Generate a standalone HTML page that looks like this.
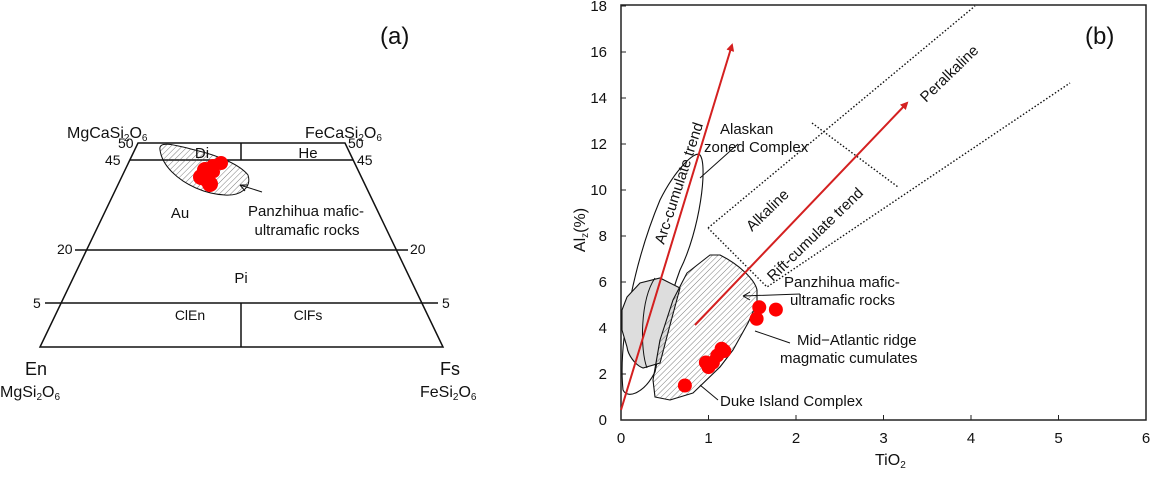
<!DOCTYPE html>
<html><head><meta charset="utf-8"><style>
body{margin:0;background:#fff}
svg text{font-family:"Liberation Sans",sans-serif;fill:#111}
</style></head><body>
<svg width="1150" height="472" viewBox="0 0 1150 472" xmlns="http://www.w3.org/2000/svg">
<defs>
<pattern id="hatch" width="4" height="4" patternUnits="userSpaceOnUse" patternTransform="rotate(45)">
<line x1="0" y1="0" x2="0" y2="4" stroke="#444" stroke-width="0.7"/></pattern>
<marker id="arr" markerWidth="8" markerHeight="8" refX="6" refY="4" orient="auto" markerUnits="userSpaceOnUse">
<path d="M0,0 L8,4 L0,8 z" fill="#d42020"/></marker>
</defs>
<!-- Panel a -->
<g fill="none" stroke="#111" stroke-width="1.5">
<text x="380" y="44" font-size="24" stroke="none">(a)</text>
<path d="M138,143 L345,143 L443,347 L40,347 Z"/>
<line x1="130" y1="160" x2="353" y2="160"/>
<line x1="75" y1="250" x2="408" y2="250"/>
<line x1="45" y1="303" x2="438" y2="303"/>
<line x1="241" y1="143" x2="241" y2="160"/>
<line x1="241" y1="303" x2="241" y2="347"/>
<path d="M160,150 C158,140 175,145 195,150 C220,156 240,165 248,175 C252,188 240,196 225,195 C205,194 185,185 172,172 C164,164 161,157 160,150 Z" fill="url(#hatch)" stroke-width="1"/>
<g stroke="none" fill="#f00">
<circle cx="221" cy="163" r="7"/><circle cx="213" cy="166" r="7"/><circle cx="205" cy="170" r="8"/><circle cx="201" cy="177" r="8"/><circle cx="210" cy="184" r="8"/><circle cx="206" cy="180" r="7"/><circle cx="214" cy="172" r="6"/>
</g>
<line x1="262" y1="192" x2="240" y2="185" stroke-width="1"/>
<path d="M240,185 l8,0 m-8,0 l5,6" stroke-width="1"/>
<g stroke="none" font-size="15">
<text x="202" y="158" text-anchor="middle">Di</text>
<text x="308" y="158" text-anchor="middle">He</text>
<text x="180" y="218" text-anchor="middle">Au</text>
<text x="306" y="216" text-anchor="middle">Panzhihua mafic-</text>
<text x="307" y="235" text-anchor="middle">ultramafic rocks</text>
<text x="241" y="283" text-anchor="middle">Pi</text>
<text x="190" y="320" text-anchor="middle" font-size="14">ClEn</text>
<text x="308" y="320" text-anchor="middle" font-size="14">ClFs</text>
<text x="118" y="148" font-size="14">50</text><text x="348" y="148" font-size="14">50</text>
<text x="105" y="165" font-size="14">45</text><text x="357" y="165" font-size="14">45</text>
<text x="57" y="254" font-size="14">20</text><text x="410" y="254" font-size="14">20</text>
<text x="33" y="308" font-size="14">5</text><text x="442" y="308" font-size="14">5</text>
<text x="67" y="138" font-size="16">MgCaSi<tspan font-size="10" dy="3">2</tspan><tspan dy="-3">O</tspan><tspan font-size="10" dy="3">6</tspan></text>
<text x="305" y="138" font-size="16">FeCaSi<tspan font-size="10" dy="3">2</tspan><tspan dy="-3">O</tspan><tspan font-size="10" dy="3">6</tspan></text>
<text x="25" y="375" font-size="18">En</text>
<text x="0" y="397" font-size="16">MgSi<tspan font-size="10" dy="3">2</tspan><tspan dy="-3">O</tspan><tspan font-size="10" dy="3">6</tspan></text>
<text x="440" y="375" font-size="18">Fs</text>
<text x="420" y="397" font-size="16">FeSi<tspan font-size="10" dy="3">2</tspan><tspan dy="-3">O</tspan><tspan font-size="10" dy="3">6</tspan></text>
</g>
</g>
<!-- Panel b -->
<g id="pb">
<rect x="621" y="5" width="525" height="415" fill="none" stroke="#222" stroke-width="1.5"/>
<text x="1085" y="44" font-size="24">(b)</text>
<g id="ticks"></g>
<!-- fields -->
<path d="M623,390 C618,340 635,260 660,200 C675,170 695,150 700,155 C708,165 700,230 680,270 C665,310 660,350 655,372 C645,392 628,400 623,390 Z" fill="none" stroke="#111" stroke-width="1.1"/>
<path d="M622,310 L627,297 L640,283 L660,278 L680,288 L670,325 L660,363 L643,368 C635,365 628,355 627,347 L622,330 Z" fill="#ddd" stroke="#111" stroke-width="1.1"/>
<path d="M655,278 C640,300 640,350 647,368" fill="none" stroke="#111" stroke-width="1"/>
<path d="M710,255 L720,255 C740,265 755,280 757,290 L757,303 L748,323 L733,350 L720,367 L693,393 L670,400 L655,397 L653,380 L660,340 L673,300 L687,273 Z" fill="url(#hatch)" stroke="#111" stroke-width="1.1" stroke-linejoin="round"/>
<path d="M708,228 L975,6 M708,228 L767,287 L1070,83 M812,123 L898,187" fill="none" stroke="#111" stroke-width="1.4" stroke-dasharray="1.5,2"/>
<line x1="621" y1="410" x2="732" y2="45" stroke="#d42020" stroke-width="2" marker-end="url(#arr)"/>
<line x1="695" y1="325" x2="907" y2="103" stroke="#d42020" stroke-width="2" marker-end="url(#arr)"/>
<g id="pts"></g>
<g fill="none" stroke="#111" stroke-width="1">
<path d="M700,178 L738,144"/><path d="M800,294 L743,296 m0,0 l7,-4 m-7,4 l7,4"/><path d="M790,343 L755,331"/><path d="M718,400 L700,385"/>
</g>
<g font-size="15">
<text x="720" y="134">Alaskan</text><text x="704" y="152">zoned Complex</text>
<text x="784" y="287">Panzhihua mafic-</text><text x="790" y="305">ultramafic rocks</text>
<text x="797" y="345">Mid−Atlantic ridge</text><text x="780" y="363">magmatic cumulates</text>
<text x="720" y="406">Duke Island Complex</text>
<text transform="translate(664,245) rotate(-72)">Arc-cumulate trend</text>
<text transform="translate(773,282) rotate(-44)">Rift-cumulate trend</text>
<text transform="translate(752,232) rotate(-44)">Alkaline</text>
<text transform="translate(926,103) rotate(-44)">Peralkaline</text>
<text x="875" y="465" font-size="16">TiO<tspan font-size="10" dy="3">2</tspan></text>
<text transform="translate(585,230) rotate(-90)" text-anchor="middle" font-size="16">Al<tspan font-size="10" dy="3">z</tspan><tspan dy="-3">(%)</tspan></text>
</g>
</g>
<script>
const xTicks=[0,1,2,3,4,5,6];
const yTicks=[0,2,4,6,8,10,12,14,16,18];
const tiO2=[0.73,0.97,1.0,1.05,1.1,1.15,1.18,1.55,1.58,1.77];
const alz=[1.5,2.5,2.3,2.5,2.8,3.1,3.0,4.4,4.9,4.8];
const sx=v=>621+v*87.5, sy=v=>420-v*23;
const NS="http://www.w3.org/2000/svg";
const tg=document.getElementById('ticks');
xTicks.forEach(t=>{
 const l=document.createElementNS(NS,'line');l.setAttribute('x1',sx(t));l.setAttribute('x2',sx(t));l.setAttribute('y1',420);l.setAttribute('y2',415);l.setAttribute('stroke','#222');
 
 tg.appendChild(l);
 const s=document.createElementNS(NS,'text');s.setAttribute('x',sx(t));s.setAttribute('y',443);s.setAttribute('text-anchor','middle');s.setAttribute('font-size','15');s.textContent=t;
 
 tg.appendChild(s);
});
yTicks.forEach(t=>{
 const l=document.createElementNS(NS,'line');l.setAttribute('x1',621);l.setAttribute('x2',626);l.setAttribute('y1',sy(t));l.setAttribute('y2',sy(t));l.setAttribute('stroke','#222');
 
 tg.appendChild(l);
 const s=document.createElementNS(NS,'text');s.setAttribute('x',607);s.setAttribute('y',sy(t)+5);s.setAttribute('text-anchor','end');s.setAttribute('font-size','15');s.textContent=t;
 
 tg.appendChild(s);
});
const pg=document.getElementById('pts');
tiO2.forEach((v,i)=>{
 const c=document.createElementNS(NS,'circle');c.setAttribute('cx',sx(v));c.setAttribute('cy',sy(alz[i]));c.setAttribute('r',7);c.setAttribute('fill','#f00');
 
 pg.appendChild(c);
});
</script>
</svg>
</body></html>
